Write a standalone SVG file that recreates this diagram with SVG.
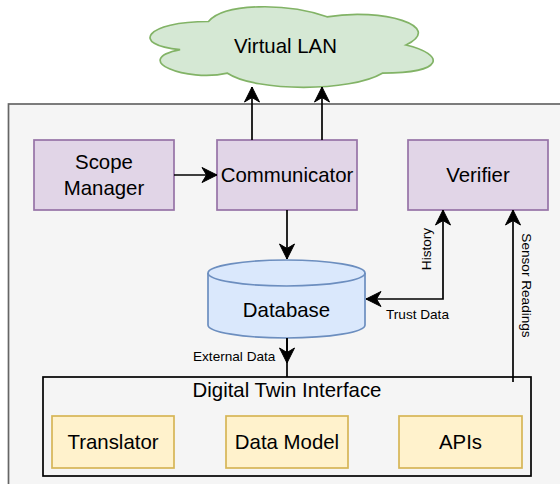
<svg xmlns="http://www.w3.org/2000/svg" width="560" height="484" viewBox="0 0 560 484">
<defs>
<style>
.t{font-family:"Liberation Sans",Arial,Helvetica,sans-serif;font-size:20.4px;fill:#000;text-anchor:middle}
.s{font-family:"Liberation Sans",Arial,Helvetica,sans-serif;font-size:13.6px;fill:#000}
.p{fill:#e1d5e7;stroke:#9673a6;stroke-width:1.7}
.y{fill:#fff2cc;stroke:#d6b656;stroke-width:1.7}
.e{fill:none;stroke:#000;stroke-width:1.7}
</style>
<marker id="arr" viewBox="-16 -8 17 16" refX="0" refY="0" markerWidth="17" markerHeight="16" markerUnits="userSpaceOnUse" orient="auto-start-reverse">
<path d="M0,0 L-15,-7.5 L-10.5,0 L-15,7.5 Z" fill="#000" stroke="#000" stroke-width="1"/>
</marker>
</defs>
<g id="container">
<rect x="8.5" y="104" width="560" height="400" fill="#f5f5f5" stroke="#666666" stroke-width="1.7"/>
</g>
<g id="virtual-lan">
<path d="M208.5,21.5 C145.3,21.5 129.5,45 180.1,49.7 C129.5,60 186.4,82.6 227.5,73.2 C255.9,92 350.7,92 382.3,73.2 C445.5,73.2 445.5,54.4 406,45 C445.5,26.2 382.3,7.4 327,16.8 C287.5,2.7 224.3,2.7 208.5,21.5 Z" fill="#d5e8d4" stroke="#82b366" stroke-width="1.7"/>
<text class="t" x="285.5" y="53">Virtual LAN</text>
</g>
<g id="scope-manager">
<rect class="p" x="34" y="140" width="140" height="70"/>
<text class="t" x="104" y="169">Scope</text>
<text class="t" x="104" y="195">Manager</text>
</g>
<g id="communicator">
<rect class="p" x="217" y="140" width="140" height="70"/>
<text class="t" x="287" y="182">Communicator</text>
</g>
<g id="verifier">
<rect class="p" x="408" y="140" width="140" height="70"/>
<text class="t" x="478" y="182">Verifier</text>
</g>
<g id="database">
<path d="M208,273 a78.5,13 0 0 1 157,0 v52 a78.5,13 0 0 1 -157,0 Z" fill="#dae8fc" stroke="#6c8ebf" stroke-width="1.7"/>
<path d="M208,273 a78.5,13 0 0 0 157,0" fill="none" stroke="#6c8ebf" stroke-width="1.7"/>
<text class="t" x="286.5" y="317">Database</text>
</g>
<g id="digital-twin-interface">
<rect x="43" y="377" width="488" height="99" fill="none" stroke="#000" stroke-width="1.7"/>
<text class="t" x="287" y="397">Digital Twin Interface</text>
</g>
<g id="translator">
<rect class="y" x="52" y="416" width="122" height="52"/>
<text class="t" x="113" y="448.5">Translator</text>
</g>
<g id="data-model">
<rect class="y" x="226" y="416" width="122" height="52"/>
<text class="t" x="287" y="448.5">Data Model</text>
</g>
<g id="apis">
<rect class="y" x="399" y="416" width="123" height="52"/>
<text class="t" x="460.5" y="448.5">APIs</text>
</g>
<g id="connectors">
<line class="e" x1="174" y1="175" x2="217" y2="175" marker-end="url(#arr)"/>
<line class="e" x1="252" y1="140" x2="252" y2="87" marker-end="url(#arr)"/>
<line class="e" x1="322" y1="140" x2="322" y2="87" marker-end="url(#arr)"/>
<line class="e" x1="287" y1="210" x2="287" y2="259" marker-end="url(#arr)"/>
<polyline class="e" points="366,299 443,299 443,210" marker-start="url(#arr)" marker-end="url(#arr)"/>
<line class="e" x1="513" y1="382" x2="513" y2="210" marker-end="url(#arr)"/>
<line class="e" x1="287" y1="338" x2="287" y2="377"/>
<line class="e" x1="287" y1="338" x2="287" y2="363" marker-end="url(#arr)"/>
<text class="s" x="386" y="319">Trust Data</text>
<text class="s" x="193" y="361">External Data</text>
<text class="s" text-anchor="middle" transform="translate(430.5,249) rotate(-90)">History</text>
<text class="s" text-anchor="middle" transform="translate(521.5,285.5) rotate(90)">Sensor Readings</text>
</g>
</svg>
